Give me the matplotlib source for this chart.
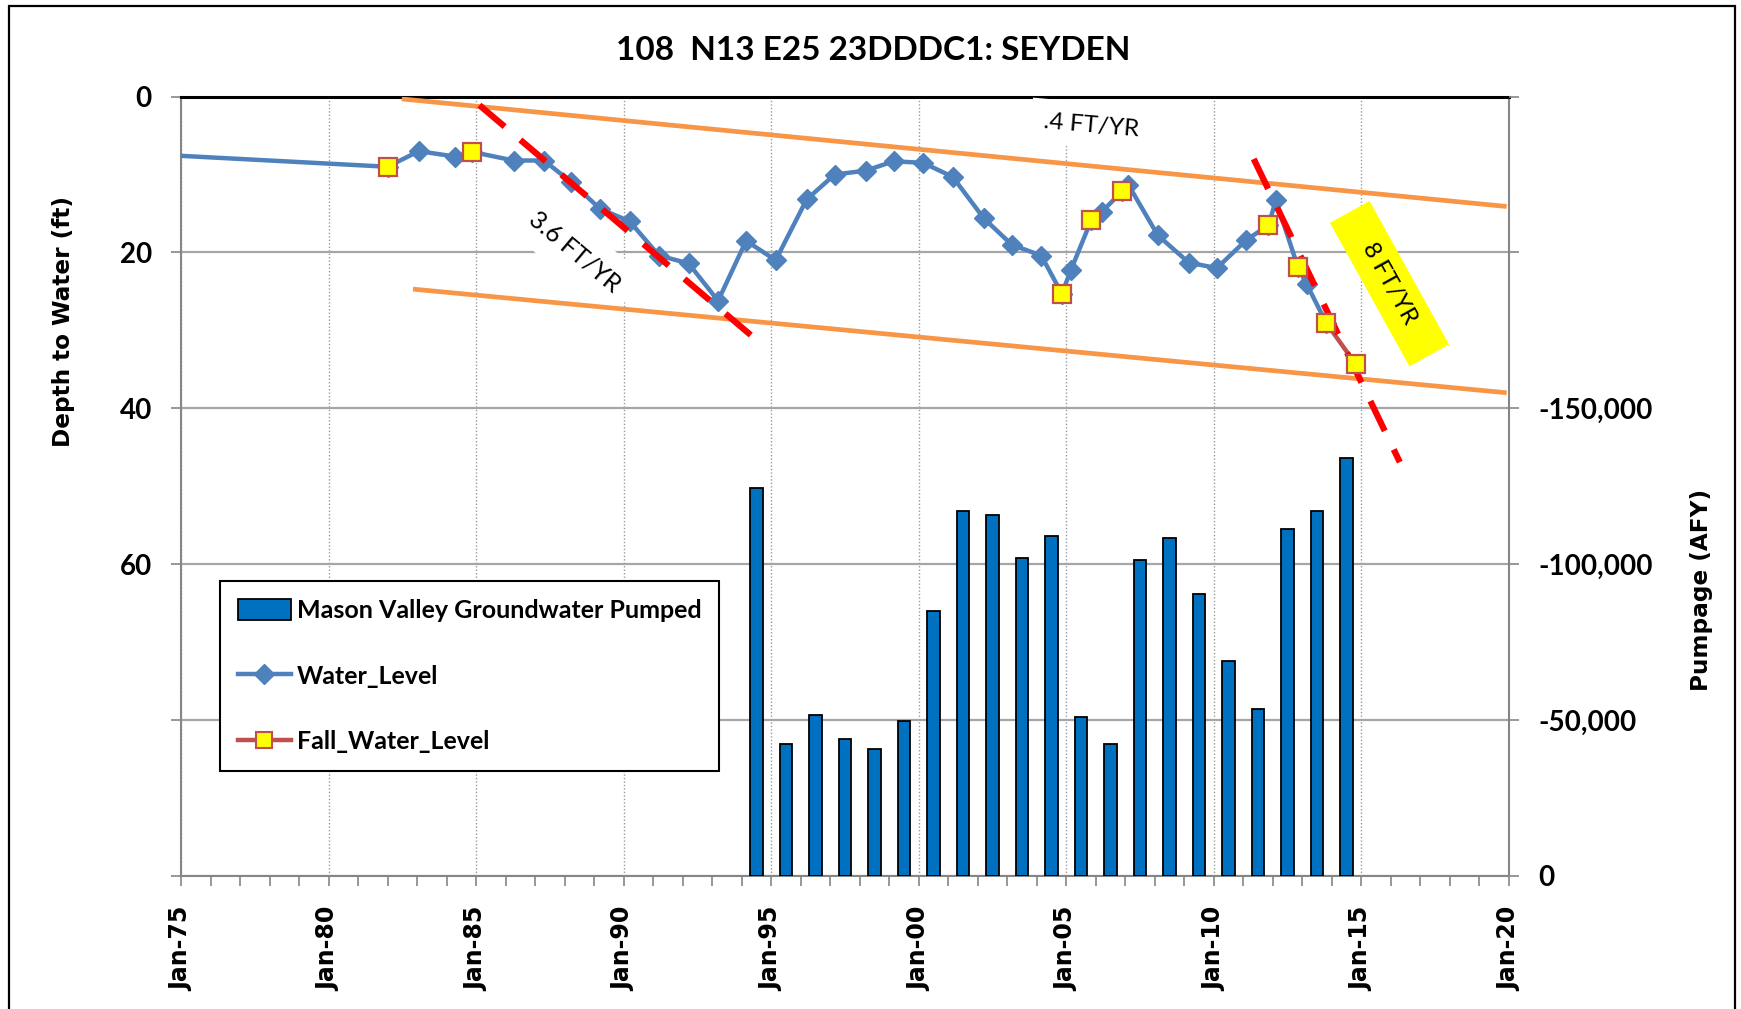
import matplotlib
matplotlib.use('Agg')
import matplotlib.pyplot as plt
from matplotlib.ticker import FixedLocator, MultipleLocator, FixedFormatter
from matplotlib.patches import Rectangle

# ---------------- data ----------------
wl_years = [1968.5, 1982.0, 1983.06, 1984.3, 1984.87, 1986.27, 1987.3, 1988.2, 1989.2,
            1990.2, 1991.2, 1992.2, 1993.2, 1994.15, 1995.15, 1996.2, 1997.15, 1998.2,
            1999.15, 2000.15, 2001.15, 2002.2, 2003.15, 2004.15, 2004.85, 2005.15,
            2005.85, 2006.2, 2006.9, 2007.1, 2008.1, 2009.15, 2010.1, 2011.1, 2011.85,
            2012.1, 2012.85, 2013.15, 2013.8]
wl_depth = [6.3, 9.0, 7.0, 7.7, 7.1, 8.2, 8.2, 10.9, 14.4,
            16.0, 20.4, 21.4, 26.2, 18.5, 21.0, 13.2, 10.0, 9.5,
            8.3, 8.5, 10.3, 15.6, 19.0, 20.4, 25.3, 22.3,
            15.8, 14.8, 12.1, 11.3, 17.8, 21.3, 22.0, 18.4, 16.5,
            13.3, 21.9, 24.1, 29.0]

fall_years = [1982.0, 1984.87, 2004.85, 2005.85, 2006.9, 2011.85, 2012.85, 2013.8, 2014.8]
fall_depth = [9.0, 7.1, 25.3, 15.8, 12.1, 16.5, 21.9, 29.0, 34.3]

pump_years = [1994.5, 1995.5, 1996.5, 1997.5, 1998.5, 1999.5, 2000.5, 2001.5, 2002.5,
              2003.5, 2004.5, 2005.5, 2006.5, 2007.5, 2008.5, 2009.5, 2010.5, 2011.5,
              2012.5, 2013.5, 2014.5]
pump_afy = [-124300, -42300, -51600, -44000, -40600, -49800, -84900, -117000, -115900,
            -102100, -109000, -50900, -42500, -101500, -108300, -90500, -68900, -53600,
            -111200, -117000, -134100]

# hand-drawn trend lines (year, depth)
upper_x = [1982.48, 2019.92]
upper_y = [0.3, 14.1]
lower_x = [1982.86, 2019.92]
lower_y = [24.7, 38.0]
rate1_x = [1985.11, 1994.62]
rate1_y = [1.1, 31.6]
rate2_x = [2011.35, 2016.3]
rate2_y = [8.0, 46.9]

x_ticks = [1975, 1980, 1985, 1990, 1995, 2000, 2005, 2010, 2015, 2020]
x_labels = ['Jan-75', 'Jan-80', 'Jan-85', 'Jan-90', 'Jan-95', 'Jan-00',
            'Jan-05', 'Jan-10', 'Jan-15', 'Jan-20']
depth_ticks = [0, 20, 40, 60, 80, 100]
depth_labels = ['0', '20', '40', '60', '', '']
pump_ticks = [0, -50000, -100000, -150000, -200000, -250000]
pump_labels = ['0', '-50,000', '-100,000', '-150,000', '', '']

# ---------------- styling ----------------
W, H = 1741, 1009
BLUE_LINE = '#4F81BD'
BAR_BLUE = '#0070C0'
RED_BROWN = '#C0504D'
ORANGE = '#F79646'
GRID = '#A6A6A6'
AXIS_GRAY = '#868686'
CAL = ['Lato', 'DejaVu Sans']
VER = ['DejaVu Sans']

fig = plt.figure(figsize=(W / 100, H / 100), dpi=100)
L, R, T, B = 181, 1509, 96.6, 876
ax = fig.add_axes([L / W, 1 - B / H, (R - L) / W, (B - T) / H])
ax2 = ax.twinx()

# figure border
fig.patches.append(Rectangle((8.6 / W, -0.02), (1735 - 8.6) / W, 1.02 - 6 / H,
                             transform=fig.transFigure, fill=False,
                             edgecolor='black', lw=1.6, zorder=0))

# ---- left axis (depth) ----
ax.set_xlim(1975, 2020)
ax.set_ylim(100, 0)
ax.set_axisbelow(True)
ax.yaxis.set_major_locator(FixedLocator(depth_ticks))
ax.yaxis.set_major_formatter(FixedFormatter(depth_labels))
ax.xaxis.set_major_locator(FixedLocator(x_ticks))
ax.xaxis.set_major_formatter(FixedFormatter(x_labels))
ax.xaxis.set_minor_locator(MultipleLocator(1))
ax.grid(axis='y', color=GRID, lw=1.6, ls='-')
ax.grid(axis='x', color='#9A9A9A', lw=1.0, ls=(0, (1, 1.5)))

for s in ['left', 'bottom', 'right']:
    ax.spines[s].set_color(AXIS_GRAY)
    ax.spines[s].set_linewidth(1.5)
ax.spines['top'].set_color('black')
ax.spines['top'].set_linewidth(2.2)
for s in ax2.spines.values():
    s.set_visible(False)

ax.tick_params(axis='x', which='both', direction='out', length=7, width=1.2,
               color=AXIS_GRAY, pad=15)
ax.tick_params(axis='y', which='major', direction='out', length=7, width=1.2,
               color=AXIS_GRAY, pad=14)
for lab in ax.get_xticklabels():
    lab.set_rotation(90)
    lab.set_family(VER)
    lab.set_fontweight('bold')
    lab.set_fontsize(17)
for lab in ax.get_yticklabels():
    lab.set_family(CAL)
    lab.set_fontweight('bold')
    lab.set_fontsize(20)

# ---- right axis (pumpage) ----
ax2.set_ylim(0, -250000)
ax2.yaxis.set_major_locator(FixedLocator(pump_ticks))
ax2.yaxis.set_major_formatter(FixedFormatter(pump_labels))
ax2.tick_params(axis='y', direction='out', length=7, width=1.2, color=AXIS_GRAY, pad=14)
for lab in ax2.get_yticklabels():
    lab.set_family(CAL)
    lab.set_fontweight('bold')
    lab.set_fontsize(20)

bars = ax2.bar(pump_years, pump_afy, width=0.42, color=BAR_BLUE, edgecolor='black',
               linewidth=1.3, zorder=2, label='Mason Valley Groundwater Pumped')

# ---- lines ----
ax.plot(upper_x, upper_y, color=ORANGE, lw=3.4, zorder=3, solid_capstyle='butt')
ax.plot(lower_x, lower_y, color=ORANGE, lw=3.4, zorder=3, solid_capstyle='butt')
wl_line, = ax.plot(wl_years, wl_depth, color=BLUE_LINE, lw=3.2, marker='D', ms=10,
                   mfc=BLUE_LINE, mec=BLUE_LINE, zorder=4, label='Water_Level')
ax.plot(fall_years[-2:], fall_depth[-2:], color=RED_BROWN, lw=3.2, zorder=4.5)
ax.plot(rate1_x, rate1_y, color='#FF0000', lw=4.5, ls=(0, (5.3, 3.3)), zorder=5,
        dash_capstyle='butt')
ax.plot(rate2_x, rate2_y, color='#FF0000', lw=4.5, ls=(0, (5.3, 3.3)), zorder=5,
        dash_capstyle='butt')
fall_line, = ax.plot(fall_years, fall_depth, ls='none', marker='s', ms=12.5,
                     mfc='#FFFF00', mec=RED_BROWN, mew=1.6, zorder=6)
# legend proxy for fall series (line + marker)
fall_proxy, = ax.plot([], [], color=RED_BROWN, lw=3.2, marker='s', ms=11,
                      mfc='#FFFF00', mec=RED_BROWN, mew=1.5, label='Fall_Water_Level')

# ---- annotations ----
ax.text(1988.35, 19.9, '3.6 FT/YR', rotation=-40, ha='center', va='center',
        fontsize=17.7, family=CAL, zorder=1,
        bbox=dict(boxstyle='square,pad=0.6', fc='white', ec='none'),
        rotation_mode='anchor')
ax.text(2005.83, 3.7, '.4 FT/YR', rotation=-5, ha='center', va='center',
        fontsize=17.5, family=CAL, zorder=3.5,
        bbox=dict(boxstyle='square,pad=0.5', fc='white', ec='none'),
        rotation_mode='anchor')
ax.text(2015.95, 24.0, '    8 FT/YR    ', rotation=-61, ha='center', va='center',
        fontsize=17.5, family=CAL, zorder=7,
        bbox=dict(boxstyle='square,pad=0.5', fc='#FFFF00', ec='none'),
        rotation_mode='anchor')

# ---- labels & title ----
ax.set_ylabel('Depth to Water (ft)', family=VER, fontweight='bold', fontsize=16.7)
ax.yaxis.label.set_va('center')
ax.yaxis.set_label_coords((63 - L) / (R - L), 0.712)
ax2.set_ylabel('Pumpage (AFY)', family=VER, fontweight='bold', fontsize=16.7,
               rotation=90)
ax2.yaxis.label.set_va('center')
ax2.yaxis.set_label_coords((1702 - L) / (R - L), 0.3675)

fig.text(872.8 / W, 1 - 51 / H, '108  N13 E25 23DDDC1: SEYDEN', ha='center',
         va='center', family=CAL, fontweight='bold', fontsize=24)

# ---- legend ----
lx0 = (220 - L) / (R - L)
ly1 = (B - 581) / (B - T)
lw_ = (719.5 - 220) / (R - L)
leg = ax2.legend([bars, wl_line, fall_proxy],
                 ['Mason Valley Groundwater Pumped', 'Water_Level', 'Fall_Water_Level'],
                 loc='upper left', bbox_to_anchor=(lx0, ly1 - 0.3, lw_, 0.3),
                 mode='expand', borderaxespad=0, frameon=True, fancybox=False,
                 edgecolor='black', framealpha=1, handlelength=2.1, handleheight=0.9,
                 handletextpad=0.25, labelspacing=1.7, borderpad=0.72,
                 prop=dict(family=CAL, weight='bold', size=18))
leg.get_frame().set_linewidth(1.5)
leg.set_zorder(10)

fig.savefig('out.png', dpi=100)
